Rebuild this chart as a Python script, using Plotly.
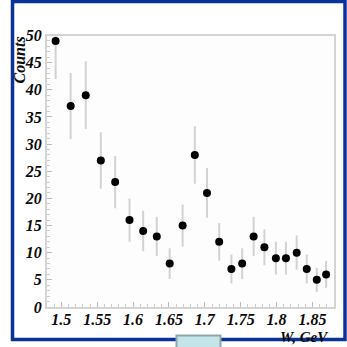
import plotly.graph_objects as go

# Invariant mass bins (GeV) and event counts with statistical errors
w_gev = [1.492, 1.513, 1.534, 1.555, 1.575, 1.595, 1.614, 1.633, 1.651,
         1.669, 1.686, 1.703, 1.720, 1.737, 1.752, 1.768, 1.783, 1.799,
         1.813, 1.828, 1.842, 1.856, 1.869]
counts = [49, 37, 39, 27, 23, 16, 14, 13, 8, 15, 28, 21, 12, 7, 8, 13, 11,
          9, 9, 10, 7, 5, 6]
errors = [7.0, 6.08, 6.24, 5.20, 4.80, 4.0, 3.74, 3.61, 2.83, 3.87, 5.29,
          4.58, 3.46, 2.65, 2.83, 3.61, 3.32, 3.0, 3.0, 3.16, 2.65, 2.24, 2.45]

x_ticks = [1.5, 1.55, 1.6, 1.65, 1.7, 1.75, 1.8, 1.85]
x_tick_text = ["1.5", "1.55", "1.6", "1.65", "1.7", "1.75", "1.8", "1.85"]
y_ticks = [0, 5, 10, 15, 20, 25, 30, 35, 40, 45, 50]

W = H = 347
SERIF = "Liberation Serif, Times New Roman, serif"
FRAME = "#d4d4d4"
BLUE = "#0a3399"

tick_font = dict(family=SERIF, size=16, color="#0a0a0a", weight="bold", style="italic")

fig = go.Figure()
fig.add_trace(go.Scatter(
    x=w_gev, y=counts, mode="markers",
    marker=dict(color="black", size=8),
    error_y=dict(type="data", array=errors, color="#d2d2d2", thickness=2, width=0),
    cliponaxis=True, showlegend=False,
))

fig.update_layout(
    width=W, height=H,
    margin=dict(l=0, r=0, t=0, b=0),
    paper_bgcolor="white",
    plot_bgcolor="#fdfdfd",
    xaxis=dict(
        domain=[47 / W, 334 / W], range=[1.48, 1.88],
        tickvals=x_ticks, ticktext=x_tick_text, tickfont=tick_font,
        ticks="inside", ticklen=5, tickwidth=1, tickcolor="#bbbbbb",
        ticklabelstandoff=-3,
        minor=dict(dtick=0.01, tick0=1.5, ticks="inside", ticklen=3, tickcolor="#cccccc"),
        showline=True, linecolor=FRAME, linewidth=2, mirror=True,
        showgrid=False, zeroline=False, automargin=False,
    ),
    yaxis=dict(
        domain=[40 / H, (H - 35.5) / H], range=[0, 50],
        tickvals=y_ticks, tickfont=tick_font,
        ticks="inside", ticklen=5, tickwidth=1, tickcolor="#bbbbbb",
        minor=dict(dtick=1, ticks="inside", ticklen=3, tickcolor="#cccccc"),
        showline=True, linecolor=FRAME, linewidth=2, mirror=True,
        showgrid=False, zeroline=False, automargin=False,
    ),
    annotations=[
        dict(text="Counts", textangle=-90, x=19 / W, y=(H - 35) / H,
             xref="paper", yref="paper", xanchor="center", yanchor="top",
             showarrow=False,
             font=dict(family=SERIF, size=16, color="#0a0a0a", weight="bold", style="italic")),
        dict(text="W, GeV", x=331 / W, y=(H - 327) / H,
             xref="paper", yref="paper", xanchor="right", yanchor="top",
             showarrow=False,
             font=dict(family=SERIF, size=15, color="#0a0a0a", weight="bold", style="italic")),
    ],
    shapes=[
        # blue slide frame
        dict(type="rect", xref="paper", yref="paper",
             x0=12.5 / W, x1=345 / W, y0=(H - 339.5) / H, y1=(H - 1.5) / H,
             line=dict(color=BLUE, width=3.5), fillcolor="rgba(0,0,0,0)", layer="above"),
        # small tab at the bottom edge
        dict(type="rect", xref="paper", yref="paper",
             x0=176.5 / W, x1=220.5 / W, y0=-0.01, y1=(H - 335.5) / H,
             line=dict(color="#8fa6aa", width=2), fillcolor="#c3e5e9", layer="above"),
    ],
)

fig.write_html("out.html")
